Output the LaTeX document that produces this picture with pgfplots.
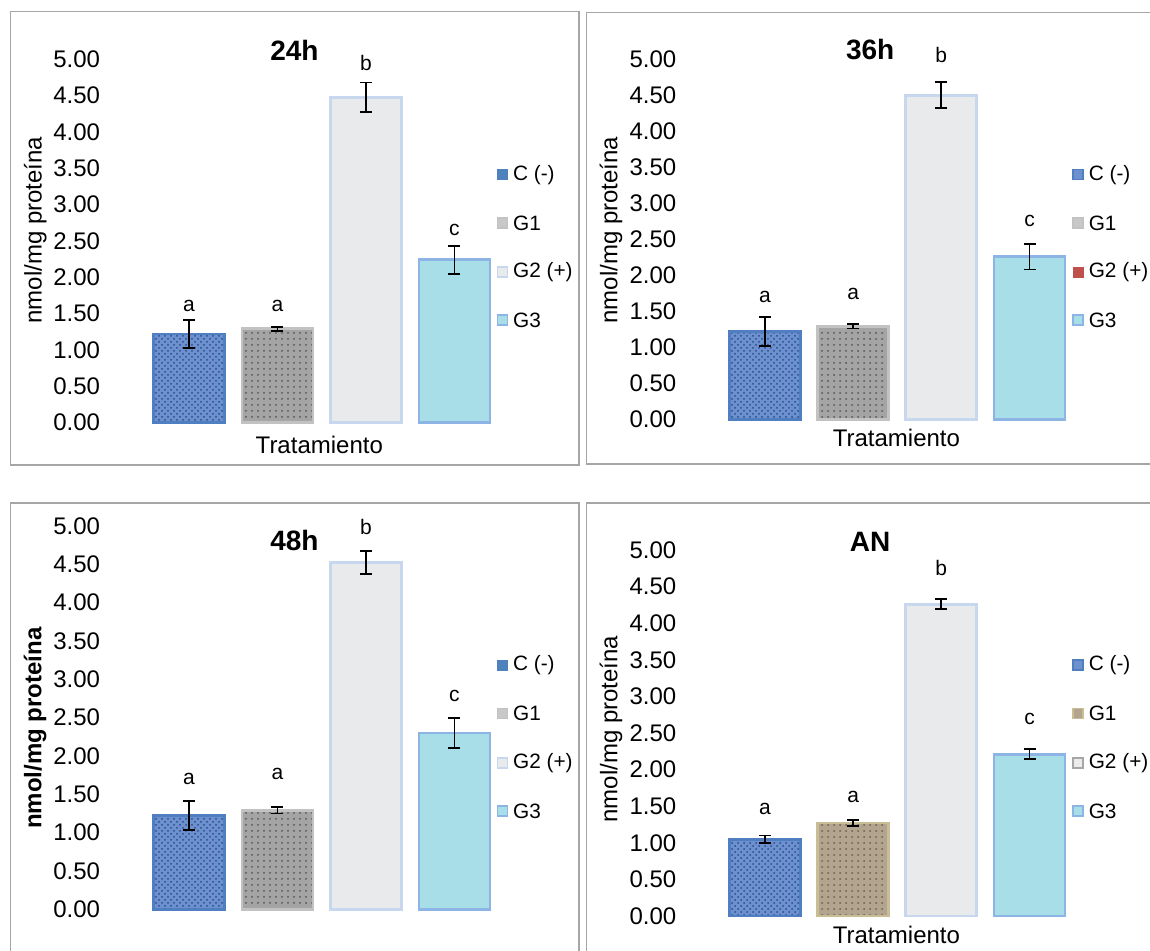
\documentclass[border=0pt]{standalone}
\usepackage{pgfplots}
\pgfplotsset{compat=1.18}
\usepackage{fontspec}
\setmainfont{Liberation Sans}
\usetikzlibrary{patterns}

\definecolor{cneg}{HTML}{6D90CF}
\definecolor{cnegd}{HTML}{2C4C8C}
\definecolor{cnegb}{HTML}{4F7FC0}
\definecolor{gone}{HTML}{A4A4A4}
\definecolor{goned}{HTML}{555555}
\definecolor{goneb}{HTML}{C2C2C2}
\definecolor{gtwo}{HTML}{E9EAEC}
\definecolor{gtwob}{HTML}{C6D7EE}
\definecolor{gthree}{HTML}{A8DEE8}
\definecolor{gthreeb}{HTML}{8CB4E4}
\definecolor{tanc}{HTML}{B3A48F}
\definecolor{tand}{HTML}{6E5E4A}
\definecolor{tanb}{HTML}{C8BD94}
\definecolor{framec}{HTML}{A6A6A6}
\definecolor{legred}{HTML}{C0504D}
\definecolor{legblue}{HTML}{4F81BD}

\pgfplotsset{
  panel/.style={scale only axis, anchor=south west, xmin=-1, xmax=4, ymin=0, ymax=5,
    axis lines*=left, axis line style={draw=none}, tick style={draw=none},
    major tick length=0pt, tick align=inside,
    xtick=\empty, ytick={0,0.5,1,1.5,2,2.5,3,3.5,4,4.5,5},
    yticklabels={0.00,0.50,1.00,1.50,2.00,2.50,3.00,3.50,4.00,4.50,5.00},
    yticklabel style={font=\fontsize{12}{14}\selectfont, inner sep=0pt, anchor=east},
    clip=false},
  mybar/.style={ybar, bar width=35.5pt, bar shift=0pt, line width=1.45pt,
    error bars/y dir=both, error bars/y explicit,
    error bars/error mark=-,
    error bars/error bar style={black, line width=0.9pt, solid},
    error bars/error mark options={black, line width=0.9pt, mark size=3pt, solid, rotate=90}},
  cbar/.style={mybar, fill=cneg, draw=cnegb, postaction={pattern=crosshatch dots, pattern color=cnegd}},
  gonebar/.style={mybar, fill=gone, draw=goneb, postaction={pattern=dots, pattern color=goned}},
  tanbar/.style={mybar, fill=tanc, draw=tanb, postaction={pattern=dots, pattern color=tand}},
  gtwobar/.style={mybar, fill=gtwo, draw=gtwob},
  gthreebar/.style={mybar, fill=gthree, draw=gthreeb},
}
\newcommand{\lett}{\fontsize{10.5}{10.5}\selectfont}

\begin{document}
\begin{tikzpicture}
\begin{scope}[x=0.5pt,y=-0.5pt]
\useasboundingbox (0,0) rectangle (1150,951);
\draw[framec, line width=0.8pt] (10.4,11.7) rectangle (579,465);
\draw[framec, line width=0.8pt] (586.5,12.7) rectangle (1160,464.3);
\draw[framec, line width=0.8pt] (10.4,502.7) rectangle (579,970);
\draw[framec, line width=0.8pt] (586.5,502.7) rectangle (1160,970);
\end{scope}

% ---------- 24h ----------
\begin{axis}[panel, at={(50.25pt,-211.35pt)}, width=221.25pt, height=181.7pt]
\addplot[cbar] coordinates {(0,1.22) +- (0,0.19)};
\addplot[gonebar] coordinates {(1,1.29) +- (0,0.03)};
\addplot[gtwobar] coordinates {(2,4.48) +- (0,0.20)};
\addplot[gthreebar] coordinates {(3,2.24) +- (0,0.19)};
\node[font=\lett] at (axis cs:0,1.61) {a};
\node[font=\lett] at (axis cs:1,1.61) {a};
\node[font=\lett] at (axis cs:2,4.95) {b};
\node[font=\lett] at (axis cs:3,2.65) {c};
\end{axis}

% ---------- 36h ----------
\begin{axis}[panel, at={(338.35pt,-209.65pt)}, width=220.5pt, height=180pt]
\addplot[cbar] coordinates {(0,1.22) +- (0,0.20)};
\addplot[gonebar] coordinates {(1,1.29) +- (0,0.03)};
\addplot[gtwobar] coordinates {(2,4.50) +- (0,0.18)};
\addplot[gthreebar] coordinates {(3,2.26) +- (0,0.18)};
\node[font=\lett] at (axis cs:0,1.70) {a};
\node[font=\lett] at (axis cs:1,1.74) {a};
\node[font=\lett] at (axis cs:2,5.06) {b};
\node[font=\lett] at (axis cs:3,2.76) {c};
\end{axis}

% ---------- 48h ----------
\begin{axis}[panel, at={(50.25pt,-454.65pt)}, width=221.25pt, height=191.65pt]
\addplot[cbar] coordinates {(0,1.22) +- (0,0.19)};
\addplot[gonebar] coordinates {(1,1.29) +- (0,0.04)};
\addplot[gtwobar] coordinates {(2,4.52) +- (0,0.15)};
\addplot[gthreebar] coordinates {(3,2.30) +- (0,0.20)};
\node[font=\lett] at (axis cs:0,1.70) {a};
\node[font=\lett] at (axis cs:1,1.76) {a};
\node[font=\lett] at (axis cs:2,4.99) {b};
\node[font=\lett] at (axis cs:3,2.78) {c};
\end{axis}

% ---------- AN ----------
\begin{axis}[panel, at={(338.35pt,-458pt)}, width=220.5pt, height=183pt]
\addplot[cbar] coordinates {(0,1.05) +- (0,0.05)};
\addplot[tanbar] coordinates {(1,1.27) +- (0,0.04)};
\addplot[gtwobar] coordinates {(2,4.26) +- (0,0.07)};
\addplot[gthreebar] coordinates {(3,2.21) +- (0,0.07)};
\node[font=\lett] at (axis cs:0,1.46) {a};
\node[font=\lett] at (axis cs:1,1.62) {a};
\node[font=\lett] at (axis cs:2,4.76) {b};
\node[font=\lett] at (axis cs:3,2.69) {c};
\end{axis}

\begin{scope}[x=0.5pt,y=-0.5pt]
% titles
\node[font=\bfseries\fontsize{14}{14}\selectfont] at (294.4,50) {24h};
\node[font=\bfseries\fontsize{14}{14}\selectfont] at (870.2,50) {36h};
\node[font=\bfseries\fontsize{14}{14}\selectfont] at (294.4,540) {48h};
\node[font=\bfseries\fontsize{14}{14}\selectfont] at (870.2,541.7) {AN};
% x labels
\node[font=\fontsize{12}{12}\selectfont] at (319.3,445) {Tratamiento};
\node[font=\fontsize{12}{12}\selectfont] at (896.4,438.3) {Tratamiento};
\node[font=\fontsize{12}{12}\selectfont] at (896.4,935) {Tratamiento};
% y labels
\node[rotate=90, font=\fontsize{12}{12}\selectfont] at (35.2,230) {nmol/mg proteína};
\node[rotate=90, font=\fontsize{12}{12}\selectfont] at (611,230) {nmol/mg proteína};
\node[rotate=90, font=\bfseries\fontsize{12}{12}\selectfont] at (35.2,728.3) {nmol/mg proteína};
\node[rotate=90, font=\fontsize{12}{12}\selectfont] at (611,729) {nmol/mg proteína};
% legends
\def\legtext#1#2#3{\node[anchor=west, inner sep=0pt, font=\fontsize{10.4}{10.4}\selectfont] at (#1,#2) {#3};}
% panel 1
\fill[legblue] (497,169.5) rectangle (508,180.5);
\draw[goneb, fill=gone!60, line width=0.8pt] (497.5,218) rectangle (507.5,228);
\draw[gtwob, fill=gtwo, line width=0.8pt] (497.5,267) rectangle (507.5,277);
\draw[gthreeb, fill=gthree, line width=0.8pt] (497.5,315) rectangle (507.5,325);
\legtext{512.7}{175}{C (-)}
\legtext{512.7}{223}{G1}
\legtext{512.7}{272}{G2 (+)}
\legtext{512.7}{320}{G3}
% panel 2
\draw[cnegb, fill=cneg, line width=0.8pt] (1073,169.5) rectangle (1083,179.5);
\draw[goneb, fill=gone!60, line width=0.8pt] (1073,218) rectangle (1083,228);
\fill[legred] (1072.5,266.7) rectangle (1083.5,277.7);
\draw[gthreeb, fill=gthree, line width=0.8pt] (1073,315) rectangle (1083,325);
\legtext{1088.4}{175}{C (-)}
\legtext{1088.4}{223}{G1}
\legtext{1088.4}{272}{G2 (+)}
\legtext{1088.4}{320}{G3}
% panel 3
\fill[legblue] (497,659.5) rectangle (508,670.5);
\draw[goneb, fill=gone!60, line width=0.8pt] (497.5,708.3) rectangle (507.5,718.3);
\draw[gtwob, fill=gtwo, line width=0.8pt] (497.5,757.7) rectangle (507.5,767.7);
\draw[gthreeb, fill=gthree, line width=0.8pt] (497.5,806) rectangle (507.5,816);
\legtext{512.7}{665}{C (-)}
\legtext{512.7}{713.3}{G1}
\legtext{512.7}{762.7}{G2 (+)}
\legtext{512.7}{811}{G3}
% panel 4
\draw[cnegb, fill=cneg, line width=0.8pt] (1073,660) rectangle (1083,670);
\draw[tanb, fill=tanc, line width=0.8pt] (1073,708.3) rectangle (1083,718.3);
\draw[gray!70, fill=gray!15, line width=0.8pt] (1073,757.7) rectangle (1083,767.7);
\draw[gthreeb, fill=gthree, line width=0.8pt] (1073,806) rectangle (1083,816);
\legtext{1088.4}{665}{C (-)}
\legtext{1088.4}{713.3}{G1}
\legtext{1088.4}{762.7}{G2 (+)}
\legtext{1088.4}{811}{G3}
\end{scope}
\end{tikzpicture}
\end{document}
